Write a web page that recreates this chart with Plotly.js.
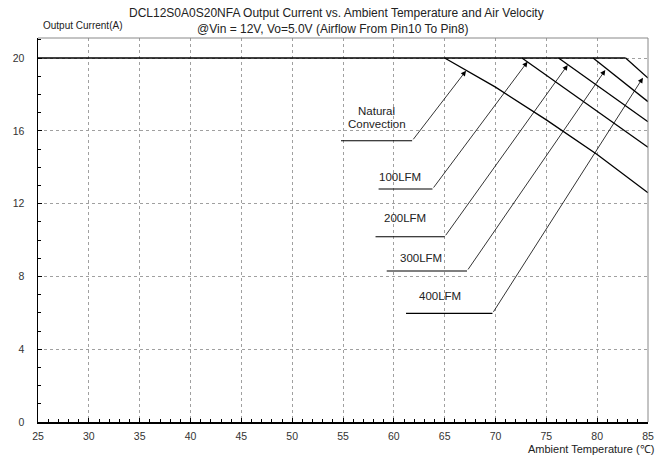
<!DOCTYPE html>
<html><head><meta charset="utf-8">
<script src="https://cdn.plot.ly/plotly-3.0.1.min.js"></script>
<style>body{margin:0;background:#fff}#c{width:666px;height:455px}</style>
</head><body><div id="c"></div>
<script>
// Flat full-load line and derating curves (T in °C, I in A)
const flatT = [25, 82.8];
const flatI = [20, 20];
const ncT = [65, 70, 75, 80, 85];
const ncI = [20, 18.4, 16.6, 14.7, 12.6];
const lfm100T = [72.6, 85];
const lfm100I = [20, 15.1];
const lfm200T = [76.2, 85];
const lfm200I = [20, 16.5];
const lfm300T = [79.6, 85];
const lfm300I = [20, 17.6];
const lfm400T = [82.8, 85];
const lfm400I = [20, 18.9];

// Callout labels
const labelText = ['Natural', 'Convection', '100LFM', '200LFM', '300LFM', '400LFM'];
const labelT = [58.3, 58.3, 60.6, 61.1, 62.7, 64.5];
const labelI = [17.09, 16.35, 13.45, 11.2, 9.0, 6.95];
const underStartT = [54.8, 58.5, 58.2, 59.3, 61.2];
const underEndT = [61.8, 63.8, 65.0, 67.2, 69.7];
const underI = [15.45, 12.8, 10.18, 8.3, 5.97];
const arrowT = [67.1, 73.15, 77.1, 80.8, 84.5];
const arrowI = [19.3, 19.8, 19.62, 19.34, 18.92];

const xTicks = [25,30,35,40,45,50,55,60,65,70,75,80,85];
const yTicks = [0,4,8,12,16,20];

const lineStyle = {color:'#000', width:1.3};
const traces = [
  {x:flatT, y:flatI},
  {x:ncT, y:ncI},
  {x:lfm100T, y:lfm100I},
  {x:lfm200T, y:lfm200I},
  {x:lfm300T, y:lfm300I},
  {x:lfm400T, y:lfm400I}
].map(t => Object.assign(t, {type:'scatter', mode:'lines', line:lineStyle, hoverinfo:'skip', showlegend:false}));

// underlines
for (let i = 0; i < underStartT.length; i++) {
  traces.push({type:'scatter', mode:'lines', x:[underStartT[i], underEndT[i]], y:[underI[i], underI[i]],
    line:{color:'#000', width:1.1}, hoverinfo:'skip', showlegend:false});
}

const font = {family:'"Liberation Sans", Arial, sans-serif', color:'#222'};
const annotations = [];
for (let i = 0; i < labelText.length; i++) {
  annotations.push({x:labelT[i], y:labelI[i], xref:'x', yref:'y', text:labelText[i], showarrow:false,
    font:Object.assign({}, font, {size:11.5}), align:'center'});
}
for (let i = 0; i < arrowT.length; i++) {
  annotations.push({x:arrowT[i], y:arrowI[i], xref:'x', yref:'y', ax:underEndT[i], ay:underI[i], axref:'x', ayref:'y',
    text:'', showarrow:true, arrowhead:2, arrowsize:1.3, arrowwidth:0.8, arrowcolor:'#000', standoff:0, startstandoff:0});
}
annotations.push({xref:'paper', yref:'paper', x:0.005, y:1.0, yshift:5, xanchor:'left', yanchor:'bottom',
  text:'Output Current(A)', showarrow:false, font:Object.assign({}, font, {size:10})});
annotations.push({xref:'paper', yref:'paper', x:1.0, y:0, xshift:8, yshift:-19, xanchor:'right', yanchor:'top',
  text:'Ambient Temperature (℃)', showarrow:false, font:Object.assign({}, font, {size:11})});
annotations.push({xref:'paper', yref:'paper', x:0.490, y:1, yshift:25, xanchor:'center', yanchor:'middle',
  text:'DCL12S0A0S20NFA Output Current vs. Ambient Temperature and Air Velocity', showarrow:false,
  font:Object.assign({}, font, {size:12})});
annotations.push({xref:'paper', yref:'paper', x:0.483, y:1, yshift:9, xanchor:'center', yanchor:'middle',
  text:'@Vin = 12V, Vo=5.0V (Airflow From Pin10 To Pin8)', showarrow:false,
  font:Object.assign({}, font, {size:12})});

const layout = {
  width:666, height:455,
  margin:{l:38, r:18, t:38, b:33},
  paper_bgcolor:'#fff', plot_bgcolor:'#fff',
  font:font,
  xaxis:{range:[25,85], tickvals:xTicks, ticktext:xTicks.map(String), ticks:'inside', ticklen:4, tickcolor:'#000',
    showgrid:true, gridcolor:'#a0a0a0', griddash:'dot', gridwidth:1,
    showline:true, linecolor:'#000', linewidth:1.5, zeroline:false, ticklabelstandoff:4,
    minor:{dtick:1, ticks:'inside', ticklen:3, tickcolor:'#000', showgrid:false},
    tickfont:Object.assign({}, font, {size:10.5, color:'#333'}), fixedrange:true},
  yaxis:{range:[0,21.1], tickvals:yTicks, ticktext:yTicks.map(String), ticks:'inside', ticklen:4, tickcolor:'#000',
    showgrid:true, gridcolor:'#a0a0a0', griddash:'dot', gridwidth:1,
    showline:true, linecolor:'#000', linewidth:1.5, zeroline:false, ticklabelstandoff:10,
    minor:{dtick:1, ticks:'inside', ticklen:3, tickcolor:'#000', showgrid:false},
    tickfont:Object.assign({}, font, {size:10.5, color:'#333'}), fixedrange:true},
  shapes:[
    {type:'line', xref:'paper', yref:'paper', x0:0, x1:1, y0:1, y1:1, line:{color:'#888', width:1}},
    {type:'line', xref:'paper', yref:'paper', x0:1, x1:1, y0:0, y1:1, line:{color:'#888', width:1}}
  ],
  annotations:annotations
};
Plotly.newPlot('c', traces, layout, {staticPlot:true, displayModeBar:false});
</script></body></html>
